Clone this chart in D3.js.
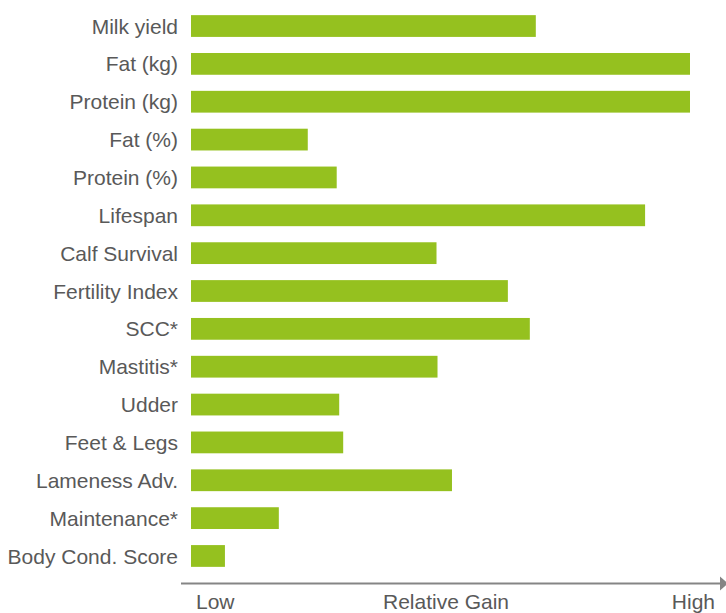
<!DOCTYPE html>
<html>
<head>
<meta charset="utf-8">
<script src="https://cdn.jsdelivr.net/npm/d3@7"></script>
<style>
  html, body { margin: 0; padding: 0; background: #fff; }
  svg { display: block; }
</style>
</head>
<body>
<div id="chart"></div>
<script>
// traits, top to bottom
const traits = ["Milk yield", "Fat (kg)", "Protein (kg)", "Fat (%)", "Protein (%)", "Lifespan",
    "Calf Survival", "Fertility Index", "SCC*", "Mastitis*", "Udder", "Feet & Legs",
    "Lameness Adv.", "Maintenance*", "Body Cond. Score"]
// relative gain, 0 = low, 100 = high
const gains = [69.1, 100, 100, 23.4, 29.2, 91, 49.2, 63.5, 67.9, 49.4, 29.7, 30.5, 52.3, 17.6, 6.8]
const axisLabels = ["Low", "Relative Gain", "High"]

const width = 726, height = 613
const barColor = "#95c11f", textColor = "#595959", axisColor = "#858585"
const fontSize = "21px"

const svg = d3.select("#chart")
    .append("svg")
    .attr("width", width)
    .attr("height", height)
    .style("font-family", "'Liberation Sans', Arial, Helvetica, sans-serif")

const x = d3.scaleLinear()
    .domain([0, 100])
    .range([191, 690])

const y = d3.scaleBand()
    .domain(traits)
    .range([7.1, 574.9])
    .paddingInner(0.425)
    .paddingOuter(0.2125)

svg.append("g")
    .attr("fill", barColor)
    .selectAll("rect")
    .data(gains)
    .join("rect")
    .attr("x", x(0))
    .attr("y", (d, i) => y(traits[i]))
    .attr("width", d => x(d) - x(0))
    .attr("height", y.bandwidth())

svg.append("g")
    .attr("fill", textColor)
    .attr("font-size", fontSize)
    .attr("text-anchor", "end")
    .selectAll("text")
    .data(traits)
    .join("text")
    .attr("x", 178)
    .attr("y", d => y(d) + y.bandwidth() / 2)
    .attr("dy", "0.36em")
    .text(d => d)

// bottom axis with arrow
const axisY = 583.5
svg.append("line")
    .attr("x1", 181).attr("x2", 721)
    .attr("y1", axisY).attr("y2", axisY)
    .attr("stroke", axisColor)
    .attr("stroke-width", 2.2)
svg.append("path")
    .attr("d", `M720,${axisY - 7}L728,${axisY}L720,${axisY + 7}Z`)
    .attr("fill", axisColor)

const labelPos = [
    { x: 196, anchor: "start" },
    { x: 446, anchor: "middle" },
    { x: 715, anchor: "end" }
]
svg.append("g")
    .attr("fill", textColor)
    .attr("font-size", fontSize)
    .selectAll("text")
    .data(axisLabels)
    .join("text")
    .attr("x", (d, i) => labelPos[i].x)
    .attr("y", 609)
    .attr("text-anchor", (d, i) => labelPos[i].anchor)
    .text(d => d)
</script>
</body>
</html>
